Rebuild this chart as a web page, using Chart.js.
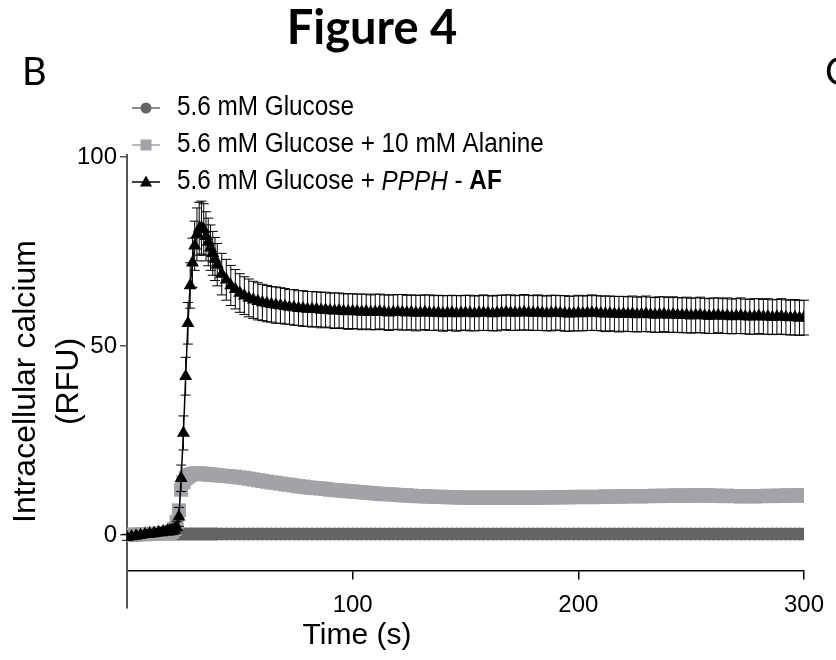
<!DOCTYPE html>
<html>
<head>
<meta charset="utf-8">
<script src="https://cdn.jsdelivr.net/npm/chart.js@4.4.1/dist/chart.umd.min.js"></script>
<style>
  html,body{margin:0;padding:0;background:#fff;}
  #wrap{position:relative;width:836px;height:660px;}
</style>
</head>
<body>
<div id="wrap"><canvas id="chart" width="836" height="660"></canvas></div>
<script>
const FONT = '"Liberation Sans", Arial, sans-serif';

// time points (s)
const times = [0,2,4,6,8,10,12,14,16,18,
  19,20,21,22,23,24,25,26,27,28,29,30,31,32,33,34,35,36,37,38,39,40,
  42,44,46,48,50,52,54,56,58,60,
  62,64,66,68,70,72,74,76,78,80,
  82,84,86,88,90,92,94,96,98,100,
  102,104,106,108,110,112,114,116,118,120,
  122,124,126,128,130,132,134,136,138,140,
  142,144,146,148,150,152,154,156,158,160,
  162,164,166,168,170,172,174,176,178,180,
  182,184,186,188,190,192,194,196,198,200,
  202,204,206,208,210,212,214,216,218,220,
  222,224,226,228,230,232,234,236,238,240,
  242,244,246,248,250,252,254,256,258,260,
  262,264,266,268,270,272,274,276,278,280,
  282,284,286,288,290,292,294,296,298,300];

// 5.6 mM Glucose
const glucose = [0.1,0.1,0.2,0.2,0.2,0.3,0.3,0.3,0.3,0.3,
  0.3,0.3,0.3,0.3,0.3,0.3,0.3,0.3,0.3,0.3,0.3,0.3,0.3,0.3,0.3,0.3,0.3,0.3,0.3,0.3,0.3,0.3,
  0.3,0.3,0.3,0.3,0.3,0.3,0.3,0.3,0.3,0.3,
  0.3,0.3,0.3,0.3,0.3,0.3,0.3,0.3,0.3,0.3,
  0.3,0.3,0.3,0.3,0.3,0.3,0.3,0.3,0.3,0.3,
  0.3,0.3,0.3,0.3,0.3,0.3,0.3,0.3,0.3,0.3,
  0.3,0.3,0.3,0.3,0.3,0.3,0.3,0.3,0.3,0.3,
  0.3,0.3,0.3,0.3,0.3,0.3,0.3,0.3,0.3,0.3,
  0.3,0.3,0.3,0.3,0.3,0.3,0.3,0.3,0.3,0.3,
  0.3,0.3,0.3,0.3,0.3,0.3,0.3,0.3,0.3,0.3,
  0.3,0.3,0.3,0.3,0.3,0.3,0.3,0.3,0.3,0.3,
  0.3,0.3,0.3,0.3,0.3,0.3,0.3,0.3,0.3,0.3,
  0.3,0.3,0.3,0.3,0.3,0.3,0.3,0.3,0.3,0.3,
  0.3,0.3,0.3,0.3,0.3,0.3,0.3,0.3,0.3,0.3,
  0.3,0.3,0.3,0.3,0.3,0.3,0.3,0.3,0.3,0.3];

// 5.6 mM Glucose + 10 mM Alanine
const alanine = [0,0.1,0.1,0.2,0.2,0.3,0.3,0.4,0.4,0.5,
  0.6,0.9,1.6,3.5,6.5,12,14,15,15.5,15.9,16.1,16.2,16.3,16.3,16.2,16.2,16.1,16,16,15.9,15.9,15.8,
  15.7,15.6,15.5,15.4,15.2,15.1,14.9,14.7,14.5,14.3,
  14.1,13.9,13.8,13.6,13.4,13.3,13.1,12.9,12.8,12.6,
  12.5,12.4,12.3,12.2,12.0,11.9,11.8,11.7,11.6,11.5,
  11.4,11.3,11.2,11.1,11,10.9,10.8,10.8,10.7,10.6,
  10.5,10.5,10.4,10.3,10.3,10.2,10.2,10.1,10.1,10.1,
  10,10,10,9.9,9.9,9.9,9.9,9.8,9.9,9.9,
  9.8,9.9,9.9,9.8,9.9,9.9,9.9,9.8,9.9,9.9,
  9.9,9.9,10,9.9,10,10,10,10,10.1,10,
  10.1,10.1,10,10.1,10.1,10.2,10.1,10.2,10.2,10.2,
  10.2,10.3,10.3,10.2,10.3,10.3,10.4,10.3,10.4,10.4,
  10.4,10.5,10.4,10.4,10.5,10.5,10.4,10.5,10.5,10.4,
  10.4,10.3,10.4,10.3,10.3,10.2,10.3,10.3,10.2,10.3,
  10.3,10.4,10.3,10.4,10.4,10.5,10.4,10.5,10.5,10.4];

// 5.6 mM Glucose + PPPH - AF (mean and SEM)
const ppph = [-0.6,-0.4,-0.2,0,0.2,0.4,0.5,0.7,0.9,1.1,
  1.2,1.3,1.5,2.0,4.8,15,27,42,56,66,72,76.5,79.5,81,81.3,80.8,79,77.5,76,74.5,73,71.5,
  69,67.5,66,65,64,63.3,62.7,62.2,61.8,61.5,
  61.2,61,60.8,60.7,60.5,60.3,60.2,60,59.9,59.8,
  59.7,59.7,59.5,59.6,59.4,59.3,59.4,59.2,59.1,59.2,
  59.1,59,59.1,58.9,59,59.1,58.9,58.8,58.9,59,
  58.9,58.8,58.9,58.7,58.8,58.9,58.8,58.7,58.8,58.6,
  58.7,58.8,58.6,58.7,58.8,58.7,58.6,58.7,58.8,58.7,
  58.6,58.7,58.8,58.9,58.8,58.7,58.8,58.9,58.8,58.7,
  58.8,58.7,58.6,58.7,58.8,58.7,58.6,58.5,58.6,58.7,
  58.6,58.7,58.8,58.7,58.6,58.5,58.6,58.5,58.4,58.5,
  58.4,58.5,58.3,58.4,58.5,58.3,58.2,58.3,58.4,58.2,
  58.3,58.2,58.1,58.2,58,58.1,58.2,58,57.9,58,
  58.1,57.9,58,57.8,57.9,58,57.8,57.7,57.8,57.9,
  57.7,57.8,57.6,57.7,57.8,57.6,57.5,57.6,57.4,57.5];
const ppphErr = [0.8,0.8,0.9,0.9,0.9,1,1,1,1.1,1.1,
  1.2,1.2,1.3,1.5,2.5,3.5,4.5,5,5.5,6,6.5,6.5,7,7,7,6.8,6.5,6.3,6,5.8,5.7,5.6,
  5.5,5.4,5.3,5.2,5.1,5,5,4.9,4.9,4.8,
  4.8,4.7,4.8,4.7,4.7,4.6,4.7,4.6,4.7,4.6,
  4.7,4.6,4.7,4.6,4.6,4.7,4.6,4.6,4.7,4.6,
  4.6,4.7,4.6,4.6,4.7,4.6,4.6,4.7,4.6,4.6,
  4.7,4.6,4.6,4.7,4.6,4.6,4.7,4.6,4.6,4.7,
  4.6,4.6,4.7,4.6,4.6,4.7,4.6,4.6,4.7,4.6,
  4.6,4.7,4.6,4.6,4.7,4.6,4.6,4.7,4.6,4.6,
  4.7,4.6,4.6,4.7,4.6,4.6,4.7,4.6,4.6,4.7,
  4.6,4.6,4.7,4.6,4.6,4.7,4.6,4.6,4.7,4.6,
  4.6,4.7,4.6,4.6,4.7,4.6,4.6,4.7,4.6,4.6,
  4.7,4.6,4.6,4.7,4.6,4.6,4.7,4.6,4.6,4.7,
  4.6,4.6,4.7,4.6,4.6,4.7,4.6,4.6,4.7,4.6,
  4.6,4.7,4.6,4.6,4.7,4.6,4.6,4.7,4.6,4.6];

const xTicks = [100, 200, 300];
const yTicks = [0, 50, 100];

const C_GLC = '#646464';
const C_ALA = '#a3a3a7';
const C_PPPH = '#000000';

const pts = (ys)=>ys.map((v,i)=>({x: times[i], y: v}));

// SEM bars for the PPPH series
const errorBars = {
  id:'errorBars',
  afterDatasetsDraw(chart){
    const {ctx, scales:{x, y}} = chart;
    ctx.save();
    ctx.strokeStyle = '#000';
    ctx.lineWidth = 1;
    ppphErr.forEach((e,i)=>{
      const px = x.getPixelForValue(times[i]);
      const top = y.getPixelForValue(ppph[i] + e);
      const bot = y.getPixelForValue(ppph[i] - e);
      ctx.beginPath();
      ctx.moveTo(px, top); ctx.lineTo(px, bot);
      ctx.moveTo(px-5, top); ctx.lineTo(px+5, top);
      ctx.moveTo(px-5, bot); ctx.lineTo(px+5, bot);
      ctx.stroke();
    });
    ctx.restore();
  }
};

// legend, panel letters, x title and figure title
const annotations = {
  id:'annotations',
  afterDraw(chart){
    const ctx = chart.ctx;
    ctx.save();
    ctx.fillStyle = '#000';
    ctx.textBaseline = 'alphabetic';
    ctx.textAlign = 'center';
    ctx.font = 'bold 47px Lato, "Open Sans", sans-serif';
    ctx.fillText('Figure 4', 372, 44);
    ctx.textAlign = 'left';
    ctx.font = '38px Lato, "Open Sans", sans-serif';
    ctx.fillText('B', 22, 85);
    ctx.fillText('C', 825, 85);

    // x axis title sits under the 100 s tick in the original
    ctx.textAlign = 'center';
    ctx.textBaseline = 'middle';
    ctx.font = '30px ' + FONT;
    ctx.fillText('Time (s)', 357, 636);
    ctx.textAlign = 'left';

    const rows = [108, 145, 182];
    const mx = 146;
    // line stubs
    [C_GLC, C_ALA, C_PPPH].forEach((c,i)=>{
      ctx.strokeStyle = c; ctx.lineWidth = 1.5;
      ctx.beginPath(); ctx.moveTo(132, rows[i]); ctx.lineTo(160, rows[i]); ctx.stroke();
    });
    ctx.fillStyle = C_GLC;
    ctx.beginPath(); ctx.arc(mx, rows[0], 5.5, 0, Math.PI*2); ctx.fill();
    ctx.fillStyle = C_ALA;
    ctx.fillRect(mx-5.5, rows[1]-5.5, 11, 11);
    ctx.fillStyle = C_PPPH;
    ctx.beginPath();
    ctx.moveTo(mx, rows[2]-6.5); ctx.lineTo(mx+6, rows[2]+4.5); ctx.lineTo(mx-6, rows[2]+4.5);
    ctx.closePath(); ctx.fill();

    // legend text, slightly condensed like the original
    ctx.fillStyle = '#000';
    ctx.textBaseline = 'middle';
    const tx = 177, squeeze = 0.9;
    const row = (parts, y)=>{
      ctx.save();
      ctx.translate(tx, y);
      ctx.scale(squeeze, 1);
      let cx = 0;
      parts.forEach(([t, st])=>{
        ctx.font = st + '27px ' + FONT;
        ctx.fillText(t, cx, 0);
        cx += ctx.measureText(t).width;
      });
      ctx.restore();
    };
    row([['5.6 mM Glucose', '']], rows[0]);
    row([['5.6 mM Glucose + 10 mM Alanine', '']], rows[1]);
    row([['5.6 mM Glucose + ', ''], ['PPPH', 'italic '], [' - ', ''], ['AF', 'bold ']], rows[2]);
    ctx.restore();
  }
};

new Chart(document.getElementById('chart'), {
  type: 'line',
  data: {
    datasets: [
      {
        label: '5.6 mM Glucose',
        data: pts(glucose),
        borderColor: C_GLC, backgroundColor: C_GLC,
        borderWidth: 1, pointStyle: 'circle', pointRadius: 6.5, pointBorderWidth: 0,
        order: 3
      },
      {
        label: '5.6 mM Glucose + 10 mM Alanine',
        data: pts(alanine),
        borderColor: C_ALA, backgroundColor: C_ALA,
        borderWidth: 1, pointStyle: 'rect', pointRadius: 10, pointBorderWidth: 0,
        order: 2
      },
      {
        label: '5.6 mM Glucose + PPPH - AF',
        data: pts(ppph),
        borderColor: C_PPPH, backgroundColor: C_PPPH,
        borderWidth: 1.5, pointStyle: 'triangle', pointRadius: 7.5, pointBorderWidth: 0,
        order: 1
      }
    ]
  },
  options: {
    responsive: false,
    animation: false,
    devicePixelRatio: 1,
    layout: { padding: { top: 155, left: 0, right: 31, bottom: 52 } },
    plugins: { legend: { display: false }, tooltip: { enabled: false } },
    scales: {
      x: {
        type: 'linear', min: 0, max: 300,
        position: { y: -9.5 },
        afterBuildTicks: s => { s.ticks = xTicks.map(v => ({ value: v })); },
        grid: { drawOnChartArea: false, tickLength: 8, color: '#000', lineWidth: 1.5 },
        border: { color: '#000', width: 1.5 },
        ticks: { font: { family: FONT, size: 24 }, color: '#000', padding: 12, maxRotation: 0 },
        title: { display: false }
      },
      y: {
        type: 'linear', min: -19.3, max: 100.5, position: 'left',
        afterBuildTicks: s => { s.ticks = yTicks.map(v => ({ value: v })); },
        afterFit: s => { s.width = 127; },
        grid: { drawOnChartArea: false, tickLength: 7, color: '#555', lineWidth: 1.5 },
        border: { color: '#555', width: 2 },
        ticks: { font: { family: FONT, size: 24 }, color: '#000', padding: 3 },
        title: { display: true, text: ['Intracellular calcium', '(RFU)'], font: { family: FONT, size: 32, lineHeight: 1.33 }, color: '#000', padding: { top: 5, bottom: 0 } }
      }
    }
  },
  plugins: [errorBars, annotations]
});
</script>
</body>
</html>
